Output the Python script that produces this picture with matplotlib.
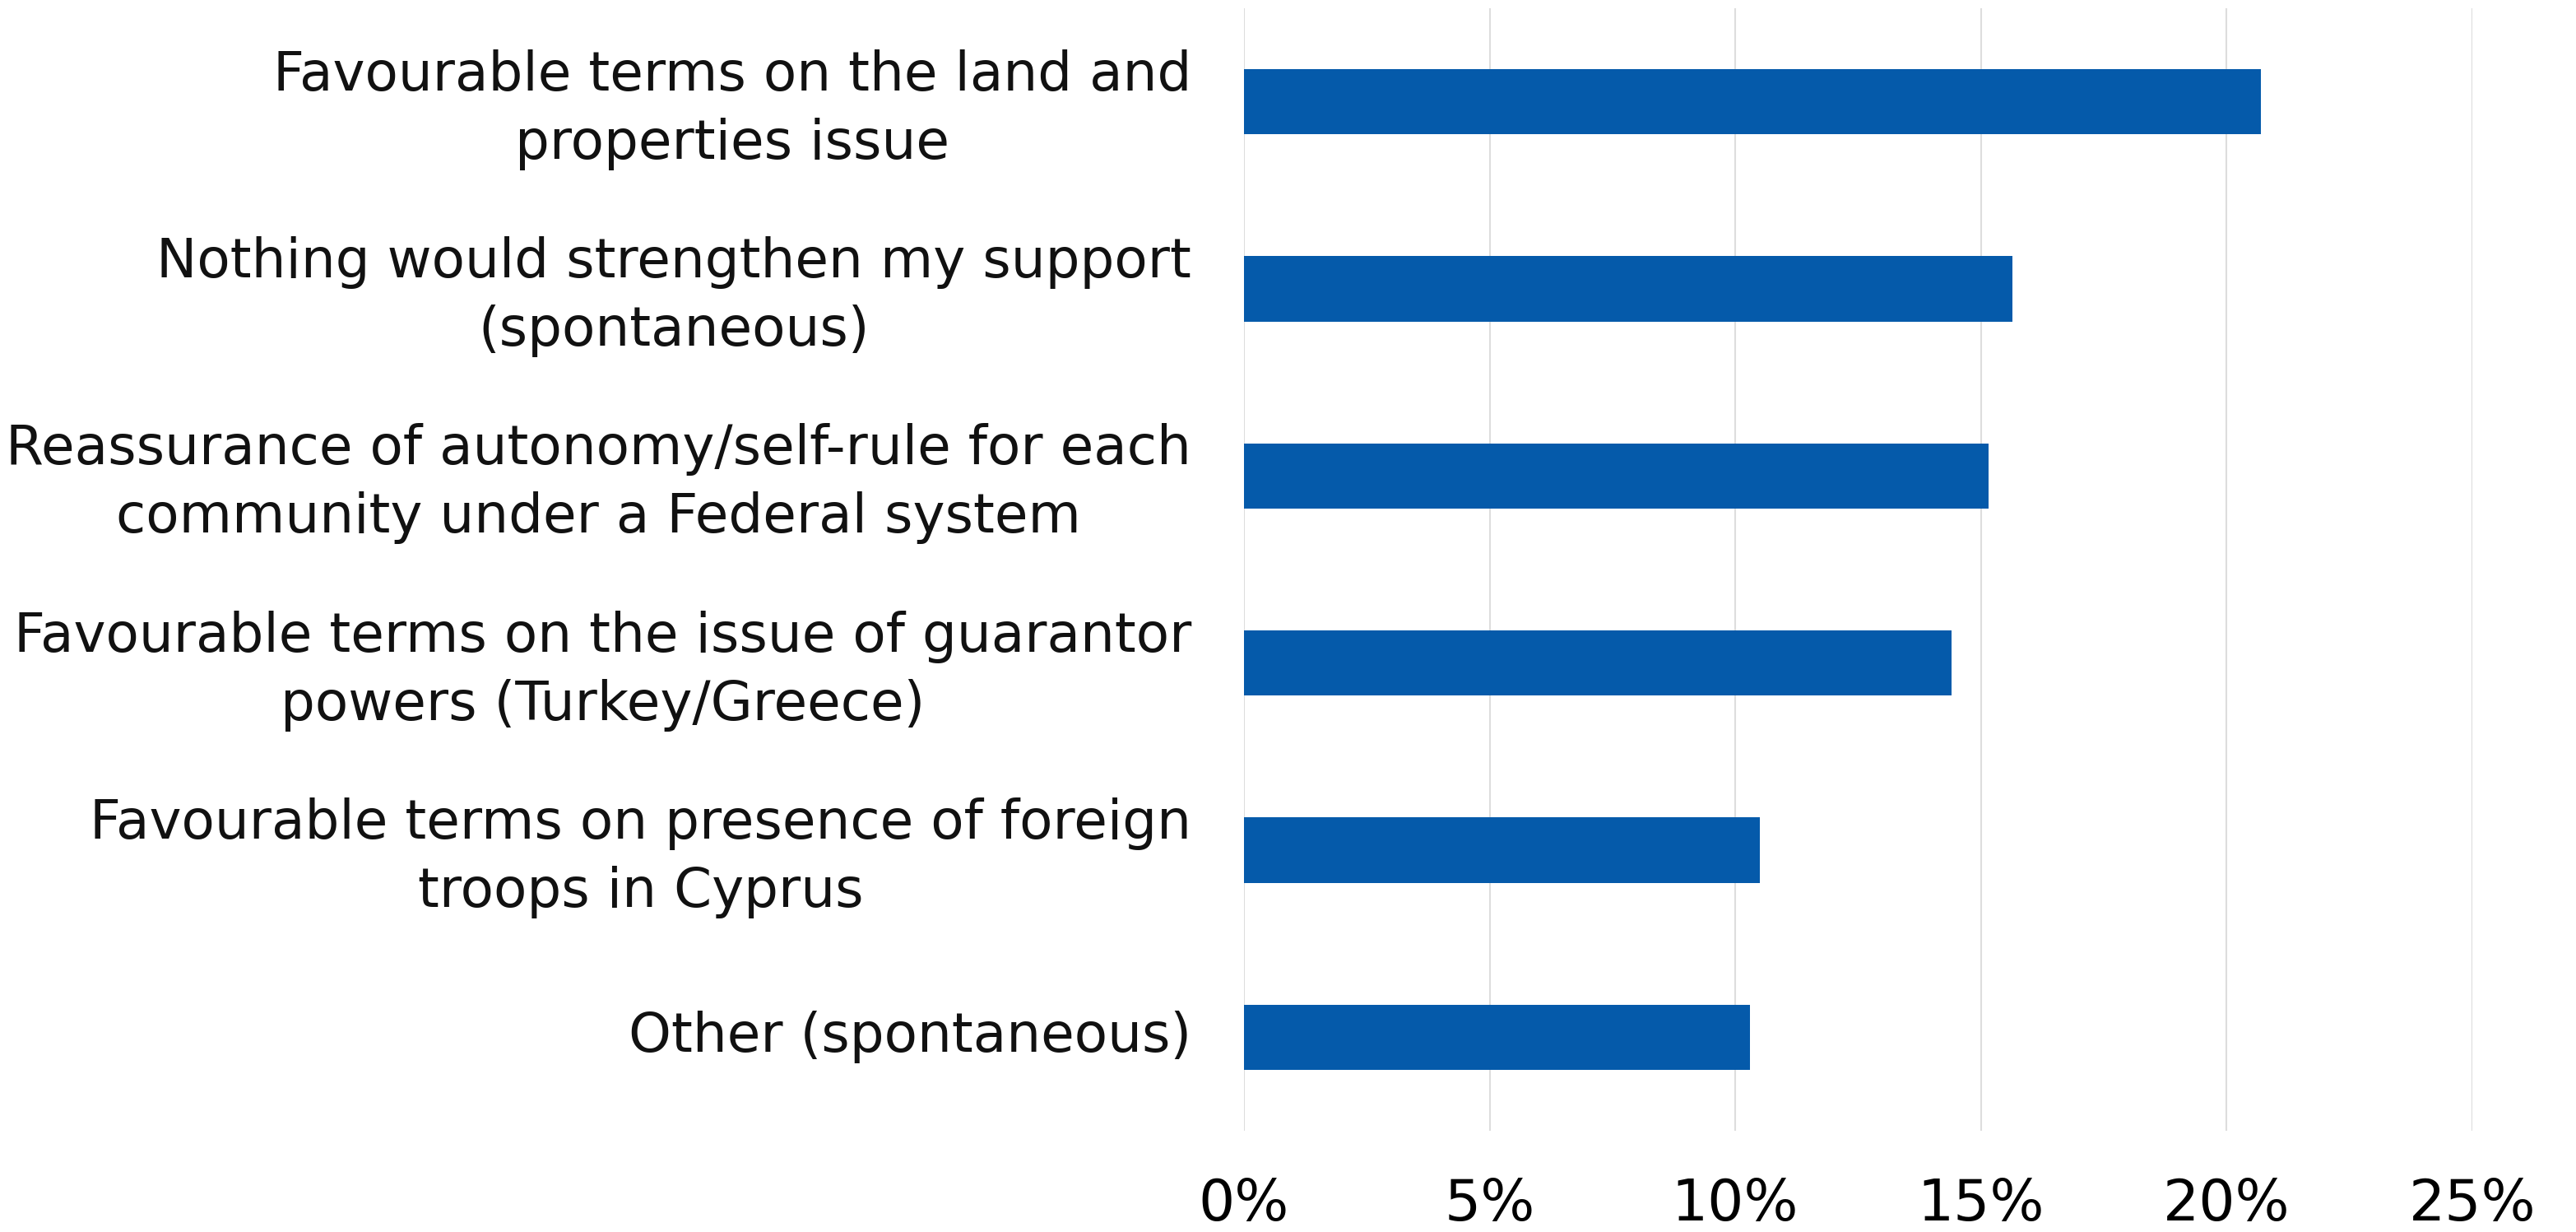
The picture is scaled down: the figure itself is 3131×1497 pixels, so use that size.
import matplotlib.pyplot as plt
from matplotlib.ticker import FuncFormatter
from matplotlib.transforms import ScaledTranslation

# survey answers, top to bottom
categories = [
    "Favourable terms on the land and\nproperties issue",
    "Nothing would strengthen my support\n(spontaneous)",
    "Reassurance of autonomy/self-rule for each\ncommunity under a Federal system",
    "Favourable terms on the issue of guarantor\npowers (Turkey/Greece)",
    "Favourable terms on presence of foreign\ntroops in Cyprus",
    "Other (spontaneous)",
]
shares = [20.7, 15.65, 15.15, 14.4, 10.5, 10.3]
xticks = [0, 5, 10, 15, 20, 25]

fig = plt.figure(figsize=(31.31, 14.97), dpi=100)
ax = fig.add_axes([0.4829, 0.0822, 0.4768, 0.9111])

ypos = list(range(len(categories)))
ax.barh(ypos, shares, height=0.35, color="#055aaa", zorder=3)

ax.set_ylim(len(categories) - 0.5, -0.5)
ax.set_xlim(0, 25)
ax.set_xticks(xticks)
ax.xaxis.set_major_formatter(FuncFormatter(lambda v, p: f"{v:.0f}%"))
ax.set_yticks(ypos)
ax.set_yticklabels(categories, fontsize=47.5, linespacing=1.38,
                   color="#111111", multialignment="center")
ax.tick_params(axis="y", length=0, pad=46)
ax.tick_params(axis="x", length=0, pad=40, labelsize=50)
for lab in ax.get_xticklabels():
    lab.set_family(["Liberation Sans Narrow", "DejaVu Sans"])

# nudge category labels up slightly so each block sits on its bar centre
shift = ScaledTranslation(0, 0.07, fig.dpi_scale_trans)
for lab in ax.get_yticklabels():
    lab.set_transform(lab.get_transform() + shift)

ax.grid(axis="x", color="#dddddd", linewidth=1.5, zorder=0)
for s in ax.spines.values():
    s.set_visible(False)

fig.savefig("out.png", dpi=100, facecolor="white")
